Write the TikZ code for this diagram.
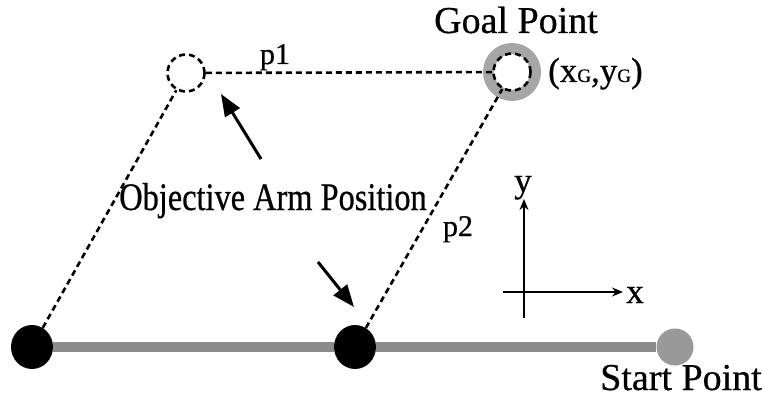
\documentclass[tikz,border=0pt]{standalone}
\usepackage{fontspec}
\setmainfont{Liberation Serif}[FakeBold=0.6]
\newfontfamily\narrowserif{Liberation Serif}[FakeStretch=0.83,FakeBold=0.6]
\usetikzlibrary{arrows.meta,shapes.geometric}
\definecolor{barcol}{gray}{0.55}
\definecolor{startcol}{gray}{0.6}
\definecolor{ringcol}{gray}{0.65}
\begin{document}
\begin{tikzpicture}[x=1pt,y=-1pt,
  blackdot/.style={ellipse,fill=black,minimum width=42pt,minimum height=44pt,inner sep=0pt},
  startdot/.style={circle,fill=startcol,minimum size=37pt,inner sep=0pt},
  armcircle/.style={circle,draw=black,line width=2.6pt,dash pattern=on 6pt off 4pt,minimum size=37pt,inner sep=0pt},
  goalring/.style={circle,draw=ringcol,line width=11pt,minimum size=47pt,inner sep=0pt},
  dashline/.style={line width=2.6pt,dash pattern=on 6pt off 4pt},
  bar/.style={barcol,line width=10pt},
  bigtxt/.style={font=\fontsize{38}{38}\selectfont,inner sep=0pt},
  midtxt/.style={font=\fontsize{35}{35}\selectfont,inner sep=0pt},
  smalltxt/.style={font=\fontsize{30}{30}\selectfont,inner sep=0pt},
  pointer/.style={line width=3pt,-{Triangle[length=22pt,width=17pt]}},
  axis/.style={line width=2.2pt,-{Stealth[length=11pt,width=9pt]}}
]
\useasboundingbox (0,0) rectangle (762,398);
% base nodes
\node[blackdot] (L) at (32,347) {};
\node[blackdot] (M) at (355,347) {};
\node[startdot] (S) at (675,347) {};
\draw[bar] (L) -- (M) -- (S);
% arm positions
\node[goalring] (GR) at (512,72) {};
\node[armcircle] (G) at (512,72) {};
\node[armcircle] (O) at (186,73) {};
\draw[dashline] (O) -- (G);
\draw[dashline] (L) -- (O);
\draw[dashline] (M) -- (G);
% labels
\node[bigtxt,anchor=base] (goaltxt) at (516,33) {Goal Point};
\node[midtxt,anchor=base west] (goalxy) at (548,82) {(x{\fontsize{19}{19}\selectfont G},y{\fontsize{19}{19}\selectfont G})};
\node[bigtxt,anchor=base] (starttxt) at (681,390) {Start Point};
\node[smalltxt,anchor=base] (p1) at (275,64) {p1};
\node[smalltxt,anchor=base] (p2) at (458,236) {p2};
\node[inner sep=0pt,anchor=base,font=\narrowserif\fontsize{39}{39}\selectfont] (objtxt) at (273,210) {Objective Arm Position};
% pointers
\coordinate (a1s) at (261,159);
\coordinate (a1e) at (221,94);
\coordinate (a2s) at (318,262);
\coordinate (a2e) at (354,307);
\draw[pointer] (a1s) -- (a1e);
\draw[pointer] (a2s) -- (a2e);
% axes
\coordinate (vy0) at (524,318);
\coordinate (vy1) at (524,199);
\coordinate (hx0) at (503,292);
\coordinate (hx1) at (623,292);
\draw[axis] (vy0) -- (vy1);
\draw[axis] (hx0) -- (hx1);
\node[midtxt,anchor=base] (ylab) at (523,192) {y};
\node[midtxt,anchor=base] (xlab) at (635,303) {x};
\end{tikzpicture}
\end{document}
